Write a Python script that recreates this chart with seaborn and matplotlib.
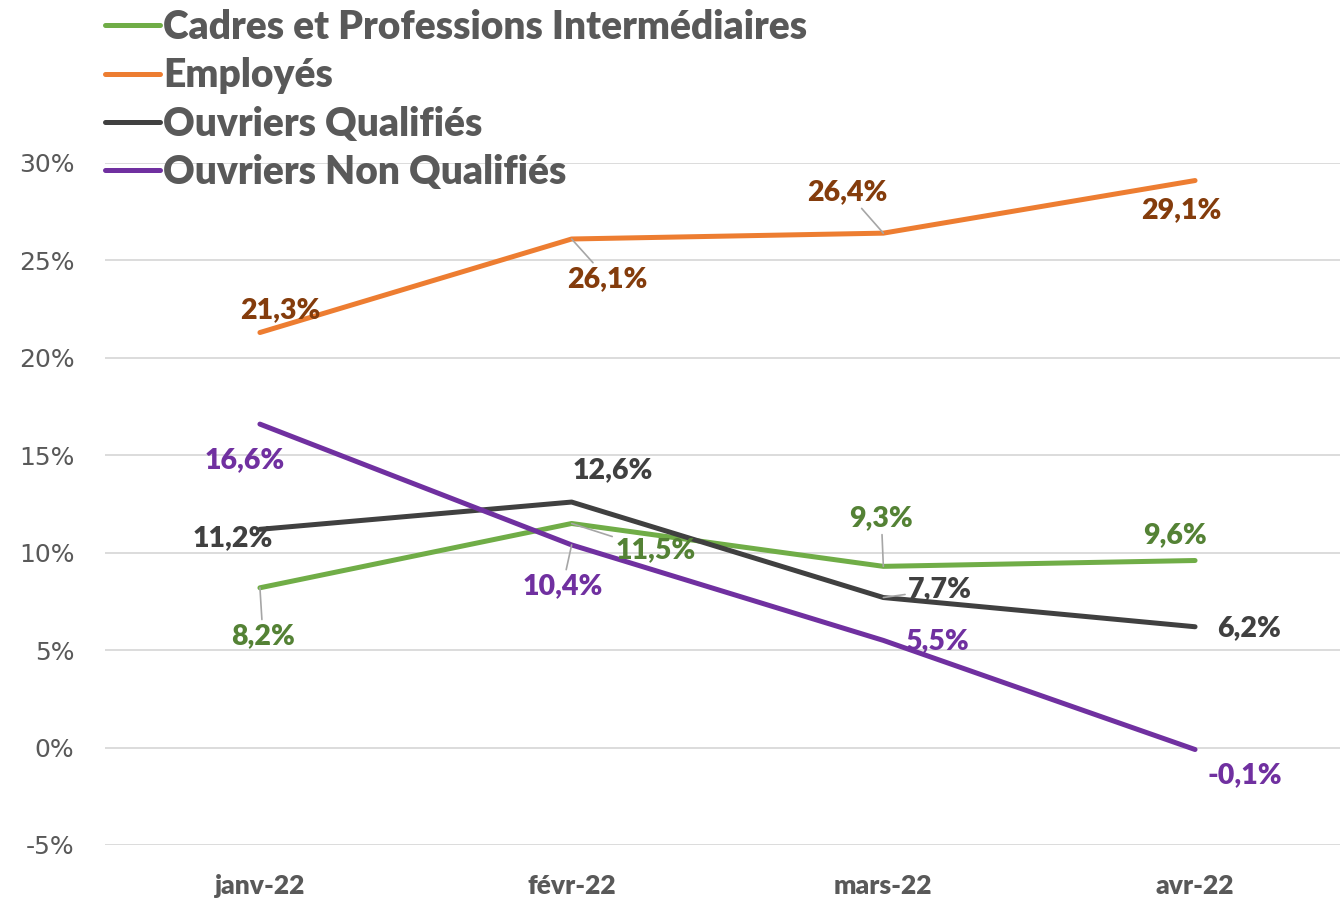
import matplotlib
matplotlib.use("Agg")
import matplotlib.pyplot as plt
import seaborn as sns
import pandas as pd
from matplotlib.lines import Line2D

# ---- data ----
months = ["janv-22", "févr-22", "mars-22", "avr-22"]
series_names = ["Cadres et Professions Intermédiaires", "Employés",
                "Ouvriers Qualifiés", "Ouvriers Non Qualifiés"]
cadres = [8.2, 11.5, 9.3, 9.6]
employes = [21.3, 26.1, 26.4, 29.1]
ouvriers_q = [11.2, 12.6, 7.7, 6.2]
ouvriers_nq = [16.6, 10.4, 5.5, -0.1]
y_ticks = [-5, 0, 5, 10, 15, 20, 25, 30]

values = [cadres, employes, ouvriers_q, ouvriers_nq]

# ---- styles ----
line_colors = ["#70AD47", "#ED7D31", "#404040", "#7030A0"]
label_colors = ["#548235", "#843C0C", "#404040", "#7030A0"]
# label offsets in pixels (dx, dy; dy positive = up) and leader flag
label_offsets = [
    [(3, -48, True), (84, -27, True), (-2, 48, True), (-20, 25, False)],
    [(20, 22, False), (36, -40, True), (-36, 41, True), (-14, -30, False)],
    [(-27, -9, False), (41, 32, False), (57, 8, True), (54, -1, False)],
    [(-15, -36, False), (-9, -41, True), (54, -1, False), (50, -26, False)],
]

rows = []
for name, vals in zip(series_names, values):
    for i, (m, v) in enumerate(zip(months, vals)):
        rows.append({"mois": m, "idx": i, "valeur": v, "serie": name})
df = pd.DataFrame(rows)

sns.set_theme(style="white")
plt.rcParams["font.family"] = ["Lato", "DejaVu Sans"]

fig = plt.figure(figsize=(13.40, 9.01), dpi=100)
ax = fig.add_axes([105 / 1340, 1 - 845 / 901, 1235 / 1340, (845 - 163) / 901])

sns.lineplot(data=df, x="idx", y="valeur", hue="serie", hue_order=series_names,
             palette=line_colors, linewidth=3.6, ax=ax, legend=False,
             sort=False)
for ln in ax.get_lines():
    ln.set_solid_capstyle("round")
    ln.set_solid_joinstyle("round")

ax.set_xlim(-0.497, 3.465)
ax.set_ylim(-5, 30)
ax.set_yticks(y_ticks)
ax.set_yticklabels([f"{t}%" for t in y_ticks], fontfamily="DejaVu Sans",
                   fontsize=18, color="#595959")
ax.set_xticks(range(len(months)))
ax.set_xticklabels(months, fontsize=19, fontweight="heavy", color="#595959")
ax.tick_params(axis="both", length=0)
ax.tick_params(axis="y", pad=22)
ax.tick_params(axis="x", pad=21)
ax.set_xlabel("")
ax.set_ylabel("")
ax.grid(axis="y", color="#D9D9D9", linewidth=1.3)
ax.grid(axis="x", visible=False)
ax.set_axisbelow(True)
for s in ax.spines.values():
    s.set_visible(False)

# data labels
for si, vals in enumerate(values):
    for i, v in enumerate(vals):
        dx, dy, leader = label_offsets[si][i]
        txt = f"{v:.1f}%".replace(".", ",")
        kw = {}
        if leader:
            kw["arrowprops"] = dict(arrowstyle="-", color="#A6A6A6", lw=1.2,
                                    shrinkA=0, shrinkB=0)
        ax.annotate(txt, xy=(i, v), xytext=(dx, dy), textcoords="offset pixels",
                    ha="center", va="center", fontsize=20.5, fontweight="heavy",
                    color=label_colors[si], zorder=5, **kw)

# legend
handles = [Line2D([0], [0], color=c, lw=3.6) for c in line_colors]
leg = fig.legend(handles, series_names, loc="upper left",
                 bbox_to_anchor=(105 / 1340, 1 - 9 / 901), frameon=False,
                 handlelength=1.41, handletextpad=0.08, labelspacing=0.29,
                 borderpad=0, borderaxespad=0,
                 prop={"family": "Lato", "weight": "heavy", "size": 28.1})
for t in leg.get_texts():
    t.set_color("#595959")

fig.savefig("out.png", dpi=100)
